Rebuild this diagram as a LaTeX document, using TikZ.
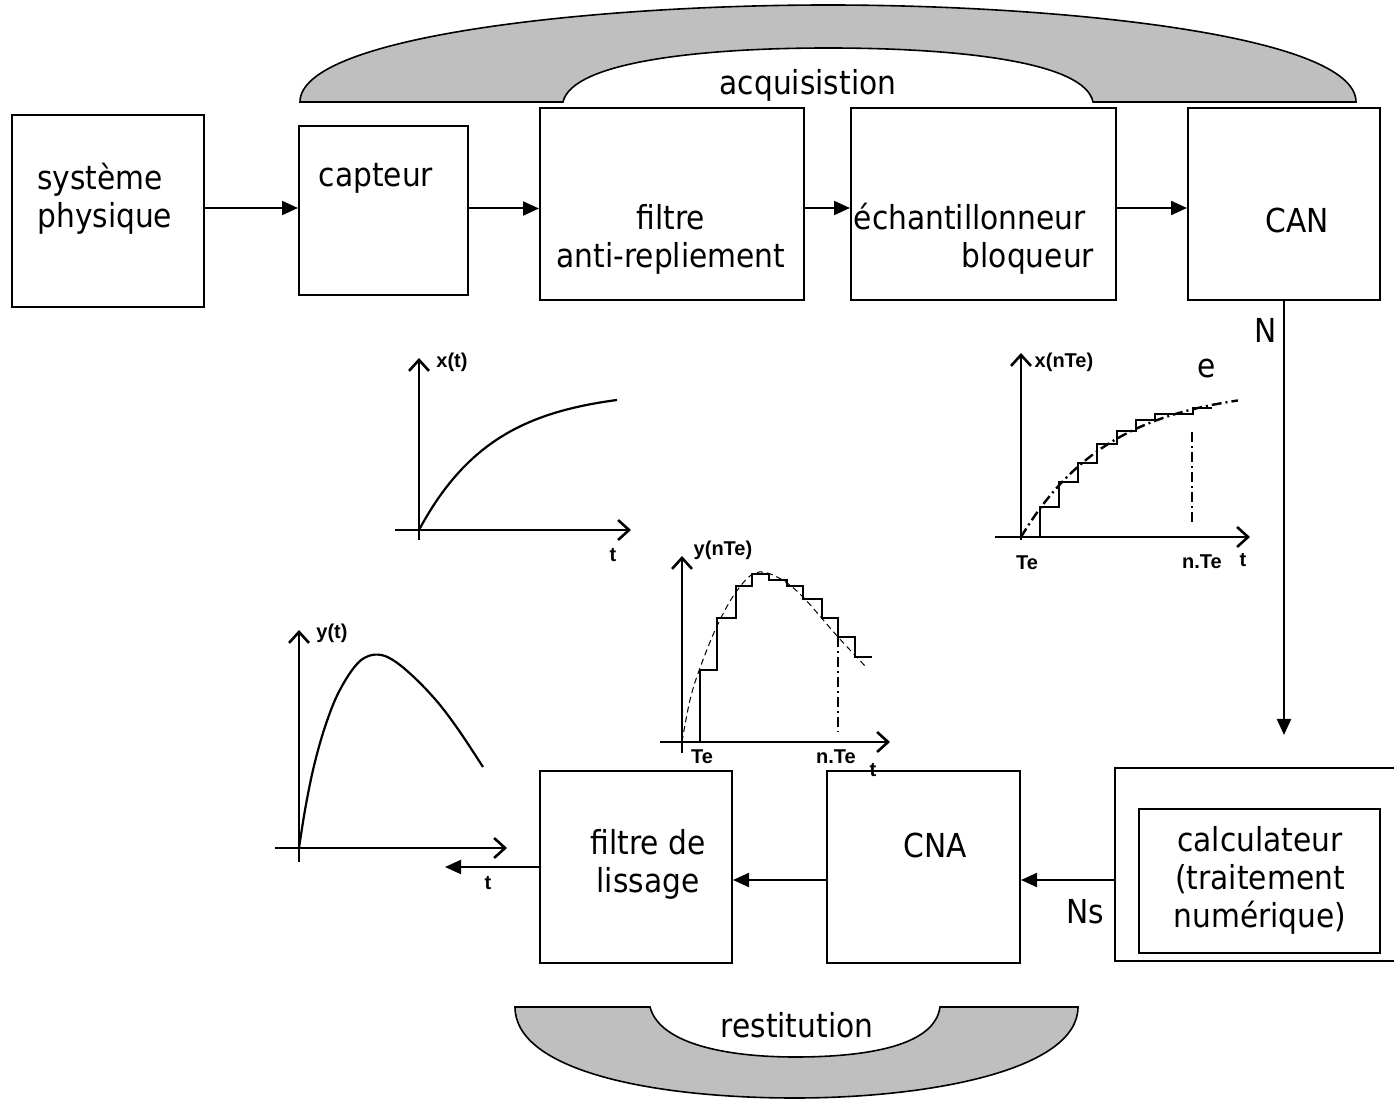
\documentclass[tikz,border=0pt]{standalone}
\usepackage{fontspec}
\setmainfont{DejaVu Sans Condensed}
\newfontfamily\labfont{Liberation Sans}
\usetikzlibrary{arrows.meta}

\begin{document}
\begin{tikzpicture}[x=0.5pt,y=-0.5pt,
  box/.style={draw, line width=1pt, inner sep=0pt},
  txt/.style={font=\fontsize{16.5}{19}\selectfont, inner sep=0pt, align=center},
  lab/.style={font=\labfont\bfseries\fontsize{10}{11}\selectfont, inner sep=0pt},
  conn/.style={line width=1pt, -{Triangle[length=8pt,width=7pt]}},
  axis/.style={line width=0.6pt, -{Straight Barb[length=5.5pt,width=10pt,line width=1.3pt]}},
  curve/.style={line width=1.1pt},
  dashdot/.style={dash pattern=on 5pt off 2pt on 1pt off 2pt},
  arch/.style={draw, fill=gray!50, line width=0.8pt}]

\useasboundingbox (0,0) rectangle (1394,1101);

% ---- acquisition / restitution arches
\path[arch] (300,102) .. controls (300,35) and (600,5) .. (828,5)
  .. controls (1060,5) and (1356,35) .. (1356,102) -- (1093,102)
  .. controls (1085,62) and (960,48) .. (828,48)
  .. controls (700,48) and (572,62) .. (563,102) -- cycle;
\node[txt] (acq) at (808,85) {acquisistion};

\path[arch] (515,1007) -- (650,1007) .. controls (660,1045) and (730,1057) .. (795,1057)
  .. controls (870,1057) and (935,1045) .. (940,1007) -- (1078,1007)
  .. controls (1078,1070) and (930,1098) .. (795,1098)
  .. controls (650,1098) and (515,1070) .. (515,1007) -- cycle;
\node[txt] (rest) at (797,1025) {restitution};

% ---- acquisition chain
\node[box, minimum width=96pt, minimum height=96pt] (sys) at (108,211) {};
\node[txt, align=left, anchor=west] (tsys) at (37,199) {système\\physique};
\node[box, minimum width=84.5pt, minimum height=84.5pt] (cap) at (383.5,210.5) {};
\node[txt] (tcap) at (376,178) {capteur};
\node[box, minimum width=132pt, minimum height=96pt] (fil) at (672,204) {};
\node[txt] (tfil) at (671,239) {filtre\\anti-repliement};
\node[box, minimum width=132.5pt, minimum height=96pt] (ech) at (983.5,204) {};
\node[txt, align=left] (tech) at (974,239) {échantillonneur\\\hspace*{54pt}bloqueur};
\node[box, minimum width=96pt, minimum height=96pt] (can) at (1284,204) {};
\node[txt] (tcan) at (1297,220) {CAN};

\draw[conn] ([yshift=1.5pt]sys.east) coordinate (a1) -- (cap.west |- a1);
\draw[conn] ([yshift=1pt]cap.east) coordinate (a2) -- (fil.west |- a2);
\draw[conn] ([yshift=-2pt]fil.east) coordinate (a3) -- (ech.west |- a3);
\draw[conn] ([yshift=-2pt]ech.east) coordinate (a4) -- (can.west |- a4);

\coordinate (nend) at (1284,735);
\draw[conn] (can.south) -- (nend);
\node[txt] (lN) at (1266,330) {N};

% ---- restitution chain
\node[minimum width=139.5pt, minimum height=96.5pt, inner sep=0pt] (calc) at (1254.5,864.5) {};
\draw[line width=1pt] (calc.north east) -- (calc.north west) -- (calc.south west) -- (calc.south east);
\node[box, minimum width=120.5pt, minimum height=72pt] (calcin) at (1259.5,881) {};
\node[txt] (tcalc) at (1260,880) {calculateur\\(traitement\\numérique)};
\node[box, minimum width=96.5pt, minimum height=96pt] (cna) at (923.5,867) {};
\node[txt] (tcna) at (935,845) {CNA};
\node[box, minimum width=96pt, minimum height=96pt] (lis) at (636,867) {};
\node[txt] (tlis) at (648,864) {filtre de\\lissage};

\draw[conn] ([yshift=-7.75pt]calc.west) coordinate (b1) -- (cna.east |- b1);
\node[txt] (lNs) at (1085,912) {Ns};
\draw[conn] ([yshift=-6.5pt]cna.west) coordinate (b2) -- (lis.east |- b2);
\coordinate (tout) at (445,867);
\draw[conn] (lis.west) -- (tout);
\node[lab] (lt4b) at (488,883) {t};

% ---- graph x(t)
\draw[axis] (419,540) -- (419,358);
\draw[axis] (395,530) -- (631,530);
\draw[curve] plot[domain=0:198, samples=60] ({419+\x},{530-140*(1-exp(-\x/75))});
\node[lab] (lx) at (452,362) {x(t)};
\node[lab] (lt1) at (613,555) {t};

% ---- graph x(nTe)
\draw[axis] (1021,540) -- (1021,353);
\draw[axis] (995,537) -- (1250,537);
\draw[line width=1.2pt, dashdot]
  plot[domain=0:217, samples=60] ({1021+\x},{537-150*(1-exp(-\x/90))});
\draw[line width=0.8pt] (1021,537) -- (1040,537) -- (1040,507) -- (1059,507) -- (1059,482)
  -- (1078,482) -- (1078,463) -- (1097,463) -- (1097,444) -- (1117,444) -- (1117,431)
  -- (1136,431) -- (1136,420) -- (1155,420) -- (1155,414) -- (1193,414) -- (1193,408) -- (1212,408);
\draw[line width=0.8pt, dashdot] (1192,432) -- (1192,524);
\node[lab] (lxn) at (1064,362) {x(nTe)};
\node[txt] (le) at (1207,368) {e};
\node[lab] (lte2) at (1027,563) {Te};
\node[lab] (lnte2) at (1202,562) {n.Te};
\node[lab] (lt2) at (1243,560) {t};

% ---- graph y(nTe)
\draw[axis] (682,753) -- (682,556);
\draw[axis] (660,742) -- (890,742);
\draw[line width=0.5pt, dash pattern=on 3pt off 2pt] plot[smooth, tension=0.6] coordinates
  {(682,742) (690,700) (700,668) (717,626) (736,592) (755,573) (775,576) (800,594) (838,637) (867,668)};
\draw[line width=0.9pt] (682,742) -- (700,742) -- (700,670) -- (717,670) -- (717,618) -- (736,618)
  -- (736,586) -- (752,586) -- (752,574) -- (769,574) -- (769,580) -- (787,580) -- (787,586)
  -- (803,586) -- (803,599) -- (822,599) -- (822,618) -- (838,618) -- (838,637) -- (855,637)
  -- (855,657) -- (872,657);
\draw[line width=0.8pt, dashdot] (838,637) -- (838,732);
\node[lab] (lyn) at (723,550) {y(nTe)};
\node[lab] (lte3) at (702,757) {Te};
\node[lab] (lnte3) at (836,757) {n.Te};
\node[lab] (lt3) at (873,770) {t};

% ---- graph y(t)
\draw[axis] (299,862) -- (299,630);
\draw[axis] (275,848) -- (507,848);
\draw[curve] plot[smooth, tension=0.55] coordinates
  {(299,848) (305,810) (313,770) (323,733) (335,700) (348,676) (360,661) (372,655)
   (385,656) (400,665) (420,683) (440,705) (460,732) (483,767)};
\node[lab] (ly) at (332,633) {y(t)};

\end{tikzpicture}
\end{document}
